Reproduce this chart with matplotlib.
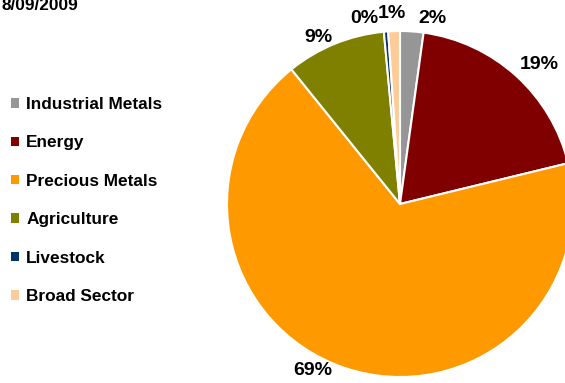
import matplotlib
matplotlib.use("Agg")
import numpy as np
import matplotlib.pyplot as plt
from matplotlib.patches import Patch

plt.rcParams['font.family'] = ['Liberation Sans', 'DejaVu Sans']
plt.rcParams['font.weight'] = 'bold'

# data
sectors = ['Industrial Metals', 'Energy', 'Precious Metals', 'Agriculture', 'Livestock', 'Broad Sector']
shares = [2.2, 19.2, 68.6, 9.4, 0.4, 1.1]
colors = ['#969696', '#800000', '#FF9900', '#808000', '#003366', '#FFCC99']
title = '8/09/2009'

# label placement (best-fit style): clockwise nudge in degrees, distance in radii
label_nudge = [6.0, 3.0, 9.0, -4.0, -6.3, -0.4]
label_dist = [1.087, 1.14, 1.09, 1.075, 1.09, 1.10]

W, H = 565, 383
fig = plt.figure(figsize=(W / 100, H / 100), dpi=100)

# pie axes: centre (400, 204) px, radius 173 px
cx, cy, r = 400, 204, 173
ax = fig.add_axes([(cx - r) / W, (H - cy - r) / H, 2 * r / W, 2 * r / H])
wedges, _ = ax.pie(shares, colors=colors, startangle=90, counterclock=False,
                   wedgeprops=dict(edgecolor='white', linewidth=1.5))
ax.set_xlim(-1, 1)
ax.set_ylim(-1, 1)
ax.set_aspect('equal')

for w, v, nd, d in zip(wedges, shares, label_nudge, label_dist):
    ang = np.deg2rad((w.theta1 + w.theta2) / 2 - nd)
    ax.text(d * np.cos(ang), d * np.sin(ang), '{:.0f}%'.format(v),
            ha='center', va='center', fontsize=14, fontweight='bold',
            clip_on=False)

handles = [Patch(facecolor=c, edgecolor='none') for c in colors]
fig.legend(handles, sectors, loc='upper left', bbox_to_anchor=(11 / W, 1 - 97 / H),
           frameon=False, handlelength=0.46, handleheight=0.46,
           handletextpad=0.42, labelspacing=1.36, borderpad=0, borderaxespad=0,
           prop=dict(weight='bold', size=12.4))

fig.text(2 / W, 1 - 10 / H, title, fontsize=12.4, fontweight='bold', va='baseline', ha='left')

fig.savefig('out.png', dpi=100)
